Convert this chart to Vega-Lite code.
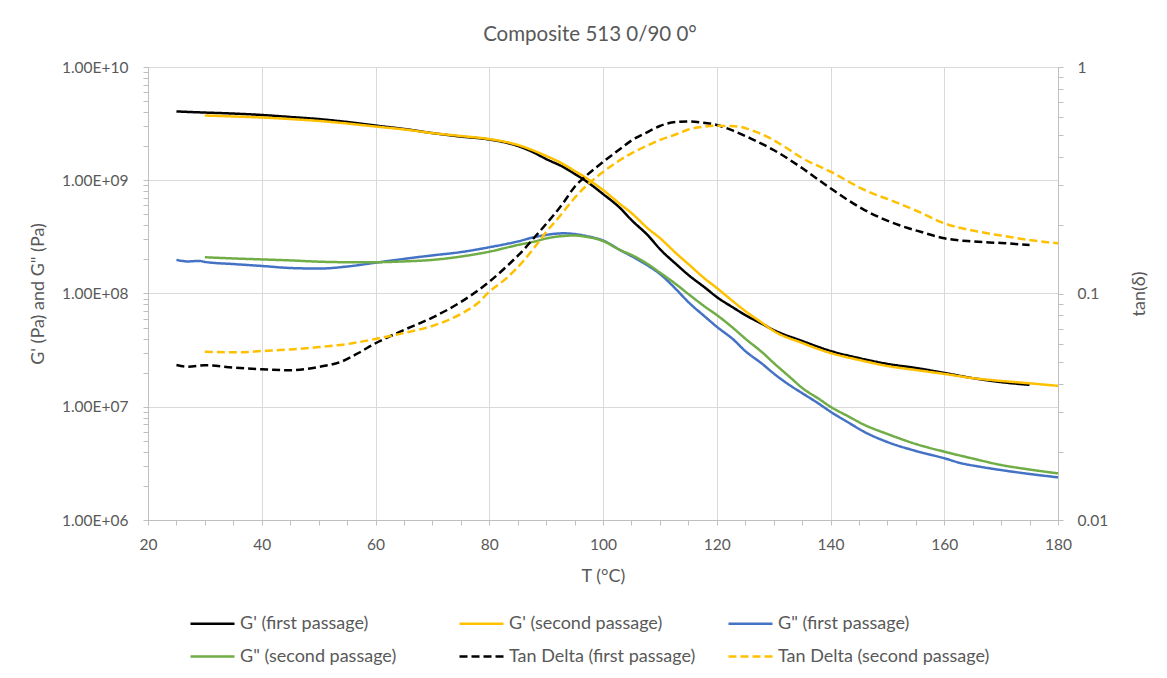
{
  "$schema": "https://vega.github.io/schema/vega-lite/v6.json",
  "width": 910,
  "height": 453,
  "autosize": {"type": "none"},
  "padding": {"left": 148, "top": 67, "right": 109, "bottom": 158},
  "background": "white",
  "config": {
    "font": "Lato",
    "view": {"stroke": null},
    "axis": {
      "domainColor": "#BFBFBF",
      "tickColor": "#BFBFBF",
      "gridColor": "#D9D9D9",
      "labelColor": "#595959",
      "titleColor": "#595959",
      "labelFont": "Lato",
      "titleFont": "Lato",
      "titleFontWeight": "normal",
      "labelFontSize": 15.5,
      "titleFontSize": 18,
      "tickSize": 5
    }
  },
  "title": {
    "text": "Composite 513 0/90 0°",
    "fontSize": 20.5,
    "fontWeight": "normal",
    "color": "#595959",
    "font": "Lato",
    "frame": "group",
    "dx": -13,
    "offset": 15
  },
  "datasets": {
    "g": [
      {"s": "G' (first passage)", "T": 25, "G": 4.05e9},
      {"s": "G' (first passage)", "T": 30, "G": 3.96e9},
      {"s": "G' (first passage)", "T": 35, "G": 3.88e9},
      {"s": "G' (first passage)", "T": 40, "G": 3.77e9},
      {"s": "G' (first passage)", "T": 45, "G": 3.62e9},
      {"s": "G' (first passage)", "T": 50, "G": 3.47e9},
      {"s": "G' (first passage)", "T": 55, "G": 3.27e9},
      {"s": "G' (first passage)", "T": 60, "G": 3.04e9},
      {"s": "G' (first passage)", "T": 65, "G": 2.84e9},
      {"s": "G' (first passage)", "T": 70, "G": 2.61e9},
      {"s": "G' (first passage)", "T": 75, "G": 2.43e9},
      {"s": "G' (first passage)", "T": 80, "G": 2.29e9},
      {"s": "G' (first passage)", "T": 85, "G": 2.01e9},
      {"s": "G' (first passage)", "T": 88, "G": 1.74e9},
      {"s": "G' (first passage)", "T": 90, "G": 1.54e9},
      {"s": "G' (first passage)", "T": 93, "G": 1.31e9},
      {"s": "G' (first passage)", "T": 95, "G": 1.14e9},
      {"s": "G' (first passage)", "T": 97, "G": 9.85e8},
      {"s": "G' (first passage)", "T": 100, "G": 7.56e8},
      {"s": "G' (first passage)", "T": 103, "G": 5.69e8},
      {"s": "G' (first passage)", "T": 105, "G": 4.46e8},
      {"s": "G' (first passage)", "T": 108, "G": 3.22e8},
      {"s": "G' (first passage)", "T": 110, "G": 2.47e8},
      {"s": "G' (first passage)", "T": 113, "G": 1.79e8},
      {"s": "G' (first passage)", "T": 115, "G": 1.46e8},
      {"s": "G' (first passage)", "T": 118, "G": 1.12e8},
      {"s": "G' (first passage)", "T": 120, "G": 9.31e7},
      {"s": "G' (first passage)", "T": 123, "G": 7.45e7},
      {"s": "G' (first passage)", "T": 125, "G": 6.46e7},
      {"s": "G' (first passage)", "T": 128, "G": 5.38e7},
      {"s": "G' (first passage)", "T": 130, "G": 4.76e7},
      {"s": "G' (first passage)", "T": 135, "G": 3.81e7},
      {"s": "G' (first passage)", "T": 140, "G": 3.11e7},
      {"s": "G' (first passage)", "T": 145, "G": 2.69e7},
      {"s": "G' (first passage)", "T": 150, "G": 2.39e7},
      {"s": "G' (first passage)", "T": 155, "G": 2.2e7},
      {"s": "G' (first passage)", "T": 160, "G": 1.99e7},
      {"s": "G' (first passage)", "T": 165, "G": 1.79e7},
      {"s": "G' (first passage)", "T": 170, "G": 1.65e7},
      {"s": "G' (first passage)", "T": 175, "G": 1.56e7},
      {"s": "G' (second passage)", "T": 30, "G": 3.73e9},
      {"s": "G' (second passage)", "T": 35, "G": 3.66e9},
      {"s": "G' (second passage)", "T": 40, "G": 3.58e9},
      {"s": "G' (second passage)", "T": 45, "G": 3.47e9},
      {"s": "G' (second passage)", "T": 50, "G": 3.34e9},
      {"s": "G' (second passage)", "T": 55, "G": 3.17e9},
      {"s": "G' (second passage)", "T": 60, "G": 2.98e9},
      {"s": "G' (second passage)", "T": 65, "G": 2.81e9},
      {"s": "G' (second passage)", "T": 70, "G": 2.61e9},
      {"s": "G' (second passage)", "T": 75, "G": 2.46e9},
      {"s": "G' (second passage)", "T": 80, "G": 2.31e9},
      {"s": "G' (second passage)", "T": 85, "G": 2.05e9},
      {"s": "G' (second passage)", "T": 88, "G": 1.81e9},
      {"s": "G' (second passage)", "T": 90, "G": 1.64e9},
      {"s": "G' (second passage)", "T": 93, "G": 1.39e9},
      {"s": "G' (second passage)", "T": 95, "G": 1.21e9},
      {"s": "G' (second passage)", "T": 97, "G": 1.05e9},
      {"s": "G' (second passage)", "T": 100, "G": 8.2e8},
      {"s": "G' (second passage)", "T": 103, "G": 6.17e8},
      {"s": "G' (second passage)", "T": 105, "G": 5.14e8},
      {"s": "G' (second passage)", "T": 108, "G": 3.71e8},
      {"s": "G' (second passage)", "T": 110, "G": 3.09e8},
      {"s": "G' (second passage)", "T": 113, "G": 2.23e8},
      {"s": "G' (second passage)", "T": 115, "G": 1.82e8},
      {"s": "G' (second passage)", "T": 118, "G": 1.34e8},
      {"s": "G' (second passage)", "T": 120, "G": 1.12e8},
      {"s": "G' (second passage)", "T": 123, "G": 8.41e7},
      {"s": "G' (second passage)", "T": 125, "G": 7.01e7},
      {"s": "G' (second passage)", "T": 128, "G": 5.49e7},
      {"s": "G' (second passage)", "T": 130, "G": 4.67e7},
      {"s": "G' (second passage)", "T": 135, "G": 3.66e7},
      {"s": "G' (second passage)", "T": 140, "G": 2.98e7},
      {"s": "G' (second passage)", "T": 145, "G": 2.59e7},
      {"s": "G' (second passage)", "T": 150, "G": 2.29e7},
      {"s": "G' (second passage)", "T": 155, "G": 2.11e7},
      {"s": "G' (second passage)", "T": 160, "G": 1.95e7},
      {"s": "G' (second passage)", "T": 165, "G": 1.79e7},
      {"s": "G' (second passage)", "T": 170, "G": 1.69e7},
      {"s": "G' (second passage)", "T": 175, "G": 1.61e7},
      {"s": "G' (second passage)", "T": 180, "G": 1.53e7},
      {"s": "G\" (first passage)", "T": 25, "G": 1.98e8},
      {"s": "G\" (first passage)", "T": 27, "G": 1.92e8},
      {"s": "G\" (first passage)", "T": 29, "G": 1.94e8},
      {"s": "G\" (first passage)", "T": 30, "G": 1.9e8},
      {"s": "G\" (first passage)", "T": 35, "G": 1.82e8},
      {"s": "G\" (first passage)", "T": 40, "G": 1.75e8},
      {"s": "G\" (first passage)", "T": 45, "G": 1.68e8},
      {"s": "G\" (first passage)", "T": 50, "G": 1.66e8},
      {"s": "G\" (first passage)", "T": 55, "G": 1.73e8},
      {"s": "G\" (first passage)", "T": 60, "G": 1.87e8},
      {"s": "G\" (first passage)", "T": 65, "G": 2.02e8},
      {"s": "G\" (first passage)", "T": 70, "G": 2.17e8},
      {"s": "G\" (first passage)", "T": 75, "G": 2.32e8},
      {"s": "G\" (first passage)", "T": 80, "G": 2.56e8},
      {"s": "G\" (first passage)", "T": 85, "G": 2.88e8},
      {"s": "G\" (first passage)", "T": 88, "G": 3.15e8},
      {"s": "G\" (first passage)", "T": 90, "G": 3.29e8},
      {"s": "G\" (first passage)", "T": 93, "G": 3.4e8},
      {"s": "G\" (first passage)", "T": 95, "G": 3.35e8},
      {"s": "G\" (first passage)", "T": 97, "G": 3.22e8},
      {"s": "G\" (first passage)", "T": 100, "G": 2.94e8},
      {"s": "G\" (first passage)", "T": 103, "G": 2.42e8},
      {"s": "G\" (first passage)", "T": 105, "G": 2.14e8},
      {"s": "G\" (first passage)", "T": 108, "G": 1.75e8},
      {"s": "G\" (first passage)", "T": 110, "G": 1.49e8},
      {"s": "G\" (first passage)", "T": 113, "G": 1.07e8},
      {"s": "G\" (first passage)", "T": 115, "G": 8.41e7},
      {"s": "G\" (first passage)", "T": 118, "G": 6.2e7},
      {"s": "G\" (first passage)", "T": 120, "G": 5.09e7},
      {"s": "G\" (first passage)", "T": 123, "G": 3.89e7},
      {"s": "G\" (first passage)", "T": 125, "G": 3.11e7},
      {"s": "G\" (first passage)", "T": 128, "G": 2.39e7},
      {"s": "G\" (first passage)", "T": 130, "G": 1.97e7},
      {"s": "G\" (first passage)", "T": 133, "G": 1.53e7},
      {"s": "G\" (first passage)", "T": 135, "G": 1.32e7},
      {"s": "G\" (first passage)", "T": 138, "G": 1.06e7},
      {"s": "G\" (first passage)", "T": 140, "G": 9.04e6},
      {"s": "G\" (first passage)", "T": 143, "G": 7.33e6},
      {"s": "G\" (first passage)", "T": 146, "G": 5.98e6},
      {"s": "G\" (first passage)", "T": 150, "G": 4.88e6},
      {"s": "G\" (first passage)", "T": 155, "G": 4.07e6},
      {"s": "G\" (first passage)", "T": 160, "G": 3.51e6},
      {"s": "G\" (first passage)", "T": 163, "G": 3.17e6},
      {"s": "G\" (first passage)", "T": 166, "G": 2.97e6},
      {"s": "G\" (first passage)", "T": 170, "G": 2.76e6},
      {"s": "G\" (first passage)", "T": 175, "G": 2.55e6},
      {"s": "G\" (first passage)", "T": 180, "G": 2.38e6},
      {"s": "G\" (second passage)", "T": 30, "G": 2.09e8},
      {"s": "G\" (second passage)", "T": 35, "G": 2.04e8},
      {"s": "G\" (second passage)", "T": 40, "G": 2.0e8},
      {"s": "G\" (second passage)", "T": 45, "G": 1.96e8},
      {"s": "G\" (second passage)", "T": 50, "G": 1.91e8},
      {"s": "G\" (second passage)", "T": 55, "G": 1.89e8},
      {"s": "G\" (second passage)", "T": 60, "G": 1.89e8},
      {"s": "G\" (second passage)", "T": 65, "G": 1.92e8},
      {"s": "G\" (second passage)", "T": 70, "G": 1.98e8},
      {"s": "G\" (second passage)", "T": 75, "G": 2.12e8},
      {"s": "G\" (second passage)", "T": 80, "G": 2.34e8},
      {"s": "G\" (second passage)", "T": 85, "G": 2.68e8},
      {"s": "G\" (second passage)", "T": 88, "G": 2.88e8},
      {"s": "G\" (second passage)", "T": 90, "G": 3.06e8},
      {"s": "G\" (second passage)", "T": 93, "G": 3.22e8},
      {"s": "G\" (second passage)", "T": 95, "G": 3.25e8},
      {"s": "G\" (second passage)", "T": 97, "G": 3.17e8},
      {"s": "G\" (second passage)", "T": 100, "G": 2.91e8},
      {"s": "G\" (second passage)", "T": 103, "G": 2.42e8},
      {"s": "G\" (second passage)", "T": 105, "G": 2.19e8},
      {"s": "G\" (second passage)", "T": 108, "G": 1.8e8},
      {"s": "G\" (second passage)", "T": 110, "G": 1.53e8},
      {"s": "G\" (second passage)", "T": 113, "G": 1.19e8},
      {"s": "G\" (second passage)", "T": 115, "G": 9.9e7},
      {"s": "G\" (second passage)", "T": 118, "G": 7.6e7},
      {"s": "G\" (second passage)", "T": 120, "G": 6.46e7},
      {"s": "G\" (second passage)", "T": 123, "G": 4.9e7},
      {"s": "G\" (second passage)", "T": 125, "G": 4.0e7},
      {"s": "G\" (second passage)", "T": 128, "G": 3.02e7},
      {"s": "G\" (second passage)", "T": 130, "G": 2.44e7},
      {"s": "G\" (second passage)", "T": 133, "G": 1.8e7},
      {"s": "G\" (second passage)", "T": 135, "G": 1.47e7},
      {"s": "G\" (second passage)", "T": 138, "G": 1.17e7},
      {"s": "G\" (second passage)", "T": 140, "G": 1.0e7},
      {"s": "G\" (second passage)", "T": 143, "G": 8.29e6},
      {"s": "G\" (second passage)", "T": 146, "G": 6.9e6},
      {"s": "G\" (second passage)", "T": 150, "G": 5.75e6},
      {"s": "G\" (second passage)", "T": 155, "G": 4.69e6},
      {"s": "G\" (second passage)", "T": 160, "G": 4.01e6},
      {"s": "G\" (second passage)", "T": 165, "G": 3.49e6},
      {"s": "G\" (second passage)", "T": 170, "G": 3.06e6},
      {"s": "G\" (second passage)", "T": 175, "G": 2.79e6},
      {"s": "G\" (second passage)", "T": 180, "G": 2.58e6}
    ],
    "tan": [
      {"s": "Tan Delta (first passage)", "T": 25, "tan": 0.0483},
      {"s": "Tan Delta (first passage)", "T": 27, "tan": 0.0475},
      {"s": "Tan Delta (first passage)", "T": 30, "tan": 0.0482},
      {"s": "Tan Delta (first passage)", "T": 35, "tan": 0.0471},
      {"s": "Tan Delta (first passage)", "T": 40, "tan": 0.0463},
      {"s": "Tan Delta (first passage)", "T": 45, "tan": 0.0458},
      {"s": "Tan Delta (first passage)", "T": 48, "tan": 0.0465},
      {"s": "Tan Delta (first passage)", "T": 50, "tan": 0.0474},
      {"s": "Tan Delta (first passage)", "T": 54, "tan": 0.05},
      {"s": "Tan Delta (first passage)", "T": 57, "tan": 0.0546},
      {"s": "Tan Delta (first passage)", "T": 60, "tan": 0.0603},
      {"s": "Tan Delta (first passage)", "T": 65, "tan": 0.069},
      {"s": "Tan Delta (first passage)", "T": 70, "tan": 0.0783},
      {"s": "Tan Delta (first passage)", "T": 75, "tan": 0.0917},
      {"s": "Tan Delta (first passage)", "T": 80, "tan": 0.1127},
      {"s": "Tan Delta (first passage)", "T": 83, "tan": 0.1313},
      {"s": "Tan Delta (first passage)", "T": 86, "tan": 0.1556},
      {"s": "Tan Delta (first passage)", "T": 88, "tan": 0.1776},
      {"s": "Tan Delta (first passage)", "T": 90, "tan": 0.2026},
      {"s": "Tan Delta (first passage)", "T": 93, "tan": 0.251},
      {"s": "Tan Delta (first passage)", "T": 95, "tan": 0.2953},
      {"s": "Tan Delta (first passage)", "T": 97, "tan": 0.3302},
      {"s": "Tan Delta (first passage)", "T": 100, "tan": 0.3807},
      {"s": "Tan Delta (first passage)", "T": 103, "tan": 0.4345},
      {"s": "Tan Delta (first passage)", "T": 105, "tan": 0.4736},
      {"s": "Tan Delta (first passage)", "T": 108, "tan": 0.519},
      {"s": "Tan Delta (first passage)", "T": 110, "tan": 0.549},
      {"s": "Tan Delta (first passage)", "T": 113, "tan": 0.572},
      {"s": "Tan Delta (first passage)", "T": 115, "tan": 0.5744},
      {"s": "Tan Delta (first passage)", "T": 117, "tan": 0.57},
      {"s": "Tan Delta (first passage)", "T": 120, "tan": 0.5546},
      {"s": "Tan Delta (first passage)", "T": 123, "tan": 0.5218},
      {"s": "Tan Delta (first passage)", "T": 126, "tan": 0.4833},
      {"s": "Tan Delta (first passage)", "T": 130, "tan": 0.43},
      {"s": "Tan Delta (first passage)", "T": 135, "tan": 0.358},
      {"s": "Tan Delta (first passage)", "T": 140, "tan": 0.2913},
      {"s": "Tan Delta (first passage)", "T": 146, "tan": 0.2336},
      {"s": "Tan Delta (first passage)", "T": 152, "tan": 0.2006},
      {"s": "Tan Delta (first passage)", "T": 156, "tan": 0.1868},
      {"s": "Tan Delta (first passage)", "T": 160, "tan": 0.1753},
      {"s": "Tan Delta (first passage)", "T": 165, "tan": 0.1697},
      {"s": "Tan Delta (first passage)", "T": 170, "tan": 0.1671},
      {"s": "Tan Delta (first passage)", "T": 175, "tan": 0.1637},
      {"s": "Tan Delta (second passage)", "T": 30, "tan": 0.0553},
      {"s": "Tan Delta (second passage)", "T": 36, "tan": 0.055},
      {"s": "Tan Delta (second passage)", "T": 40, "tan": 0.0557},
      {"s": "Tan Delta (second passage)", "T": 45, "tan": 0.0566},
      {"s": "Tan Delta (second passage)", "T": 50, "tan": 0.058},
      {"s": "Tan Delta (second passage)", "T": 55, "tan": 0.0598},
      {"s": "Tan Delta (second passage)", "T": 60, "tan": 0.063},
      {"s": "Tan Delta (second passage)", "T": 65, "tan": 0.0669},
      {"s": "Tan Delta (second passage)", "T": 70, "tan": 0.0719},
      {"s": "Tan Delta (second passage)", "T": 75, "tan": 0.0812},
      {"s": "Tan Delta (second passage)", "T": 78, "tan": 0.0908},
      {"s": "Tan Delta (second passage)", "T": 80, "tan": 0.1018},
      {"s": "Tan Delta (second passage)", "T": 83, "tan": 0.1167},
      {"s": "Tan Delta (second passage)", "T": 86, "tan": 0.1391},
      {"s": "Tan Delta (second passage)", "T": 88, "tan": 0.1604},
      {"s": "Tan Delta (second passage)", "T": 90, "tan": 0.1868},
      {"s": "Tan Delta (second passage)", "T": 92, "tan": 0.2133},
      {"s": "Tan Delta (second passage)", "T": 95, "tan": 0.264},
      {"s": "Tan Delta (second passage)", "T": 97, "tan": 0.2983},
      {"s": "Tan Delta (second passage)", "T": 100, "tan": 0.3439},
      {"s": "Tan Delta (second passage)", "T": 103, "tan": 0.3886},
      {"s": "Tan Delta (second passage)", "T": 105, "tan": 0.4159},
      {"s": "Tan Delta (second passage)", "T": 108, "tan": 0.4523},
      {"s": "Tan Delta (second passage)", "T": 110, "tan": 0.4761},
      {"s": "Tan Delta (second passage)", "T": 113, "tan": 0.5059},
      {"s": "Tan Delta (second passage)", "T": 115, "tan": 0.5297},
      {"s": "Tan Delta (second passage)", "T": 118, "tan": 0.5461},
      {"s": "Tan Delta (second passage)", "T": 120, "tan": 0.5506},
      {"s": "Tan Delta (second passage)", "T": 122, "tan": 0.549},
      {"s": "Tan Delta (second passage)", "T": 124, "tan": 0.5452},
      {"s": "Tan Delta (second passage)", "T": 126, "tan": 0.5268},
      {"s": "Tan Delta (second passage)", "T": 129, "tan": 0.4908},
      {"s": "Tan Delta (second passage)", "T": 132, "tan": 0.4433},
      {"s": "Tan Delta (second passage)", "T": 135, "tan": 0.3964},
      {"s": "Tan Delta (second passage)", "T": 140, "tan": 0.3449},
      {"s": "Tan Delta (second passage)", "T": 146, "tan": 0.2864},
      {"s": "Tan Delta (second passage)", "T": 152, "tan": 0.2501},
      {"s": "Tan Delta (second passage)", "T": 156, "tan": 0.2266},
      {"s": "Tan Delta (second passage)", "T": 160, "tan": 0.2041},
      {"s": "Tan Delta (second passage)", "T": 165, "tan": 0.1897},
      {"s": "Tan Delta (second passage)", "T": 170, "tan": 0.1803},
      {"s": "Tan Delta (second passage)", "T": 175, "tan": 0.1722},
      {"s": "Tan Delta (second passage)", "T": 180, "tan": 0.1665}
    ]
  },
  "encoding": {
    "x": {
      "field": "T",
      "type": "quantitative",
      "scale": {"domain": [20, 180], "nice": false, "zero": false},
      "axis": {
        "title": "T (°C)",
        "values": [20, 25, 30, 35, 40, 45, 50, 55, 60, 65, 70, 75, 80, 85, 90, 95, 100, 105, 110, 115, 120, 125, 130, 135, 140, 145, 150, 155, 160, 165, 170, 175, 180],
        "labelExpr": "datum.value % 20 == 0 ? '' + datum.value : ''",
        "labelOverlap": false,
        "labelFlush": false,
        "labelPadding": 12,
        "titlePadding": 15,
        "grid": true,
        "gridOpacity": {"condition": {"test": "datum.value % 20 == 0", "value": 1}, "value": 0}
      }
    },
    "color": {
      "field": "s",
      "type": "nominal",
      "scale": {
        "domain": ["G' (first passage)", "G\" (second passage)", "G' (second passage)", "Tan Delta (first passage)", "G\" (first passage)", "Tan Delta (second passage)"],
        "range": ["#000000", "#70AD47", "#FFC000", "#000000", "#4472C4", "#FFC000"]
      },
      "legend": {
        "title": null,
        "orient": "none",
        "legendX": 41,
        "legendY": 533,
        "columns": 3,
        "gridAlign": "all",
        "columnPadding": 2,
        "rowPadding": -10,
        "symbolType": "stroke",
        "symbolSize": 1936,
        "symbolStrokeWidth": 2.5,
        "labelOffset": 4,
        "labelFontSize": 18,
        "labelFont": "Lato",
        "labelColor": "#595959",
        "labelLimit": 400
      }
    },
    "strokeDash": {
      "field": "s",
      "type": "nominal",
      "scale": {
        "domain": ["G' (first passage)", "G\" (second passage)", "G' (second passage)", "Tan Delta (first passage)", "G\" (first passage)", "Tan Delta (second passage)"],
        "range": [[1, 0], [1, 0], [1, 0], [8, 4], [1, 0], [8, 4]]
      },
      "legend": {
        "title": null,
        "orient": "none",
        "legendX": 41,
        "legendY": 533,
        "columns": 3,
        "gridAlign": "all",
        "columnPadding": 2,
        "rowPadding": -10,
        "symbolType": "stroke",
        "symbolSize": 1936,
        "symbolStrokeWidth": 2.5,
        "labelOffset": 4,
        "labelFontSize": 18,
        "labelFont": "Lato",
        "labelColor": "#595959",
        "labelLimit": 400
      }
    }
  },
  "layer": [
    {
      "data": {"name": "g"},
      "mark": {"type": "line", "strokeWidth": 2.5, "interpolate": "monotone"},
      "encoding": {
        "y": {
          "field": "G",
          "type": "quantitative",
          "scale": {"type": "log", "domain": [1e6, 1e10], "nice": false},
          "axis": {
            "title": "G' (Pa) and G\" (Pa)",
            "orient": "left",
            "values": [1e6, 2e6, 3e6, 4e6, 5e6, 6e6, 7e6, 8e6, 9e6, 1e7, 2e7, 3e7, 4e7, 5e7, 6e7, 7e7, 8e7, 9e7, 1e8, 2e8, 3e8, 4e8, 5e8, 6e8, 7e8, 8e8, 9e8, 1e9, 2e9, 3e9, 4e9, 5e9, 6e9, 7e9, 8e9, 9e9, 1e10],
            "labelExpr": "abs(log(datum.value)/LN10 - round(log(datum.value)/LN10)) < 0.001 ? '1.00E+' + (round(log(datum.value)/LN10) < 10 ? '0' : '') + round(log(datum.value)/LN10) : ''",
            "labelOverlap": false,
            "labelPadding": 15,
            "titlePadding": 14,
            "grid": true,
            "gridOpacity": {"condition": {"test": "abs(log(datum.value)/LN10 - round(log(datum.value)/LN10)) < 0.001", "value": 1}, "value": 0}
          }
        }
      }
    },
    {
      "data": {"name": "tan"},
      "mark": {"type": "line", "strokeWidth": 2.5, "interpolate": "monotone"},
      "encoding": {
        "y": {
          "field": "tan",
          "type": "quantitative",
          "scale": {"type": "log", "domain": [0.01, 1], "nice": false},
          "axis": {
            "title": "tan(δ)",
            "orient": "right",
            "titleAngle": 270,
            "values": [0.01, 0.02, 0.03, 0.04, 0.05, 0.06, 0.07, 0.08, 0.09, 0.1, 0.2, 0.3, 0.4, 0.5, 0.6, 0.7, 0.8, 0.9, 1],
            "labelExpr": "abs(log(datum.value)/LN10 - round(log(datum.value)/LN10)) < 0.001 ? format(datum.value, '~g') : ''",
            "labelOverlap": false,
            "labelPadding": 14,
            "titlePadding": 41,
            "grid": false
          }
        }
      }
    }
  ],
  "resolve": {"scale": {"y": "independent"}}
}
